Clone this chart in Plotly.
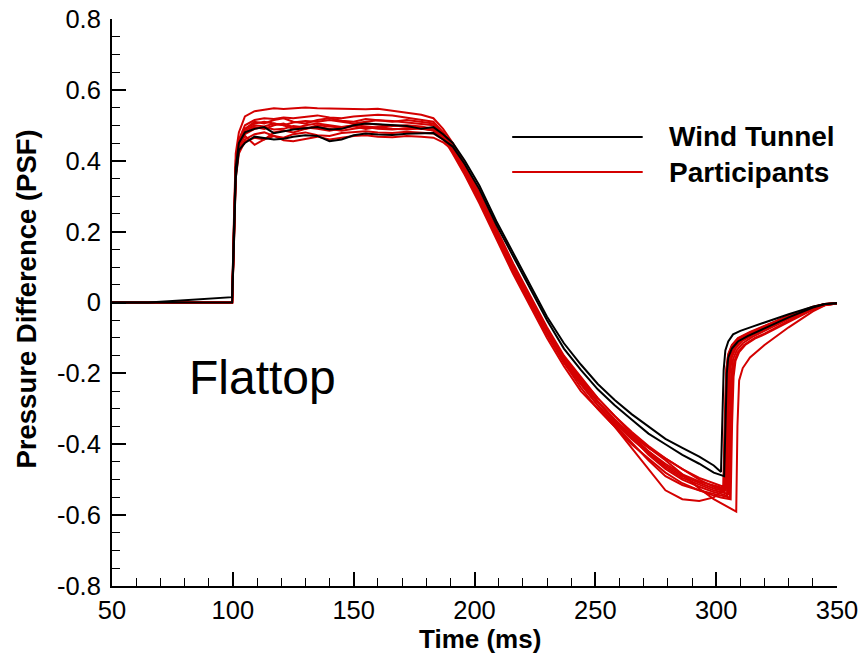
import plotly.graph_objects as go

# ---- shared time base (ms) for the run up to the suction peak ----
t_main = [50, 65, 80, 99.7, 100.4, 101.2,
          102.5, 105, 109, 113, 117, 121, 125, 130, 135, 140, 145, 150, 155, 160, 166, 172, 178, 183, 187,
          191, 196, 202, 209, 216, 223, 230, 237, 244, 251, 258, 265, 272, 279, 286, 293, 299]

# ---- wind tunnel records (PSF) ----
wt1_main = [0, 0.0, 0.006, 0.015, 0.20, 0.38,
            0.45, 0.48, 0.49, 0.495, 0.478, 0.483, 0.488, 0.492, 0.495, 0.488, 0.49, 0.50, 0.505, 0.503, 0.50, 0.498, 0.49, 0.495, 0.475,
            0.45, 0.40, 0.33, 0.23, 0.14, 0.05, -0.04, -0.115, -0.175, -0.23, -0.275, -0.315, -0.35, -0.385, -0.41, -0.435, -0.46]
wt1_t_tail = [302, 302.6, 303.1, 303.8, 305, 307, 310, 315, 320, 330, 340, 345, 350]
wt1_p_tail = [-0.478, -0.32, -0.19, -0.135, -0.11, -0.09, -0.08, -0.068, -0.056, -0.033, -0.012, -0.004, -0.002]

wt2_main = [0, 0, 0, 0, 0.15, 0.35,
            0.43, 0.45, 0.468, 0.465, 0.46, 0.462, 0.468, 0.472, 0.47, 0.455, 0.46, 0.472, 0.477, 0.474, 0.473, 0.476, 0.478, 0.478, 0.46,
            0.44, 0.39, 0.32, 0.22, 0.13, 0.04, -0.05, -0.13, -0.19, -0.245, -0.29, -0.33, -0.37, -0.40, -0.43, -0.455, -0.48]
wt2_t_tail = [303.3, 303.9, 304.4, 305, 306.5, 309, 313, 320, 330, 340, 345, 350]
wt2_p_tail = [-0.49, -0.32, -0.20, -0.155, -0.13, -0.11, -0.095, -0.073, -0.042, -0.014, -0.004, -0.002]

# ---- participant records (PSF) ----
p1_main = [0, 0, 0, 0, 0.22, 0.42,
           0.48, 0.525, 0.54, 0.545, 0.548, 0.546, 0.548, 0.55, 0.548, 0.547, 0.548, 0.546, 0.545, 0.547, 0.542, 0.536, 0.53, 0.52, 0.49,
           0.45, 0.39, 0.31, 0.21, 0.11, 0.02, -0.07, -0.15, -0.21, -0.27, -0.32, -0.37, -0.41, -0.44, -0.47, -0.50, -0.52]
p1_t_tail = [302, 304, 304.6, 305.2, 306, 307.5, 310, 315, 320, 330, 340, 345, 350]
p1_p_tail = [-0.525, -0.53, -0.33, -0.20, -0.15, -0.125, -0.105, -0.087, -0.07, -0.04, -0.014, -0.005, -0.002]

p2_main = [0, 0, 0, 0, 0.20, 0.40,
           0.46, 0.50, 0.515, 0.52, 0.518, 0.522, 0.52, 0.525, 0.528, 0.522, 0.52, 0.525, 0.527, 0.53, 0.528, 0.522, 0.515, 0.51, 0.48,
           0.44, 0.38, 0.30, 0.20, 0.10, 0.01, -0.08, -0.16, -0.22, -0.28, -0.33, -0.38, -0.42, -0.46, -0.49, -0.51, -0.525]
p2_t_tail = [302, 303.5, 304.1, 304.7, 305.5, 307, 310, 315, 320, 330, 340, 345, 350]
p2_p_tail = [-0.53, -0.535, -0.33, -0.19, -0.145, -0.12, -0.10, -0.083, -0.067, -0.038, -0.013, -0.004, -0.002]

p3_main = [0, 0, 0, 0, 0.18, 0.38,
           0.45, 0.49, 0.505, 0.51, 0.505, 0.50, 0.508, 0.512, 0.51, 0.515, 0.51, 0.505, 0.51, 0.514, 0.512, 0.508, 0.505, 0.50, 0.475,
           0.43, 0.37, 0.29, 0.19, 0.09, 0.00, -0.09, -0.17, -0.23, -0.29, -0.34, -0.385, -0.425, -0.465, -0.495, -0.515, -0.53]
p3_t_tail = [302, 305, 305.6, 306.2, 307, 308.5, 311, 315, 320, 330, 340, 345, 350]
p3_p_tail = [-0.535, -0.54, -0.34, -0.21, -0.16, -0.135, -0.115, -0.097, -0.08, -0.047, -0.017, -0.006, -0.003]

p4_main = [0, 0, 0, 0, 0.17, 0.37,
           0.44, 0.48, 0.495, 0.49, 0.50, 0.505, 0.495, 0.49, 0.50, 0.497, 0.493, 0.50, 0.505, 0.502, 0.498, 0.50, 0.497, 0.49, 0.47,
           0.43, 0.37, 0.29, 0.19, 0.10, 0.01, -0.08, -0.16, -0.22, -0.28, -0.33, -0.375, -0.41, -0.445, -0.485, -0.525, -0.555]
p4_t_tail = [304, 308.3, 308.8, 309.5, 311, 314, 320, 330, 340, 345, 350]
p4_p_tail = [-0.575, -0.59, -0.35, -0.22, -0.185, -0.155, -0.12, -0.07, -0.025, -0.008, -0.003]

p5_main = [0, 0, 0, 0, 0.16, 0.36,
           0.44, 0.47, 0.445, 0.46, 0.48, 0.485, 0.48, 0.49, 0.495, 0.49, 0.485, 0.49, 0.495, 0.49, 0.488, 0.492, 0.49, 0.485, 0.465,
           0.42, 0.36, 0.28, 0.18, 0.08, -0.01, -0.10, -0.18, -0.25, -0.30, -0.35, -0.41, -0.47, -0.53, -0.555, -0.56, -0.55]
p5_t_tail = [303, 304, 304.6, 305.2, 306, 307.5, 310, 315, 320, 330, 340, 345, 350]
p5_p_tail = [-0.53, -0.525, -0.32, -0.20, -0.155, -0.13, -0.11, -0.09, -0.073, -0.042, -0.015, -0.005, -0.002]

p6_main = [0, 0, 0, 0, 0.16, 0.36,
           0.43, 0.46, 0.475, 0.48, 0.47, 0.465, 0.475, 0.48, 0.472, 0.47, 0.478, 0.48, 0.483, 0.48, 0.478, 0.482, 0.48, 0.477, 0.46,
           0.43, 0.375, 0.30, 0.20, 0.10, 0.01, -0.08, -0.155, -0.215, -0.27, -0.32, -0.365, -0.405, -0.44, -0.47, -0.495, -0.51]
p6_t_tail = [301, 303, 303.6, 304.2, 305, 306.5, 309, 314, 320, 330, 340, 345, 350]
p6_p_tail = [-0.515, -0.52, -0.32, -0.19, -0.145, -0.12, -0.10, -0.083, -0.066, -0.037, -0.012, -0.004, -0.002]

p7_main = [0, 0, 0, 0, 0.15, 0.35,
           0.42, 0.455, 0.465, 0.46, 0.47, 0.458, 0.455, 0.462, 0.468, 0.46, 0.465, 0.47, 0.472, 0.468, 0.466, 0.47, 0.468, 0.465, 0.452,
           0.43, 0.37, 0.29, 0.19, 0.09, 0.0, -0.09, -0.17, -0.24, -0.30, -0.35, -0.40, -0.44, -0.48, -0.51, -0.53, -0.54]
p7_t_tail = [302, 305.5, 306.1, 306.7, 307.5, 309, 311.5, 316, 320, 330, 340, 345, 350]
p7_p_tail = [-0.545, -0.55, -0.34, -0.21, -0.165, -0.14, -0.12, -0.1, -0.088, -0.052, -0.019, -0.007, -0.003]

p8_main = [0, 0, 0, 0, 0.19, 0.39,
           0.45, 0.49, 0.51, 0.505, 0.515, 0.52, 0.51, 0.505, 0.515, 0.52, 0.513, 0.51, 0.518, 0.515, 0.51, 0.515, 0.51, 0.505, 0.48,
           0.44, 0.38, 0.30, 0.20, 0.10, 0.01, -0.075, -0.155, -0.22, -0.28, -0.335, -0.38, -0.43, -0.47, -0.50, -0.52, -0.535]
p8_t_tail = [302, 304.5, 305.1, 305.7, 306.5, 308, 310.5, 315, 320, 330, 340, 345, 350]
p8_p_tail = [-0.54, -0.545, -0.33, -0.20, -0.155, -0.13, -0.11, -0.092, -0.077, -0.045, -0.016, -0.005, -0.002]

p9_main = [0, 0, 0, 0, 0.17, 0.37,
           0.44, 0.475, 0.49, 0.495, 0.488, 0.49, 0.498, 0.495, 0.49, 0.485, 0.492, 0.497, 0.49, 0.495, 0.49, 0.488, 0.492, 0.485, 0.465,
           0.43, 0.37, 0.29, 0.19, 0.09, 0.0, -0.085, -0.165, -0.23, -0.29, -0.345, -0.395, -0.445, -0.49, -0.515, -0.53, -0.545]
p9_t_tail = [302, 306, 306.6, 307.2, 308, 309.5, 312, 316, 320, 330, 340, 345, 350]
p9_p_tail = [-0.55, -0.555, -0.34, -0.21, -0.165, -0.14, -0.12, -0.102, -0.09, -0.055, -0.02, -0.007, -0.003]

p10_main = [0, 0, 0, 0, 0.18, 0.38,
            0.45, 0.485, 0.50, 0.497, 0.505, 0.50, 0.49, 0.50, 0.505, 0.50, 0.495, 0.50, 0.498, 0.494, 0.50, 0.496, 0.49, 0.488, 0.468,
            0.44, 0.38, 0.30, 0.20, 0.10, 0.01, -0.08, -0.16, -0.225, -0.28, -0.33, -0.375, -0.42, -0.455, -0.485, -0.505, -0.515]
p10_t_tail = [301, 303, 303.6, 304.2, 305, 306.5, 309, 314, 320, 330, 340, 345, 350]
p10_p_tail = [-0.52, -0.525, -0.32, -0.19, -0.148, -0.122, -0.102, -0.085, -0.068, -0.038, -0.013, -0.004, -0.002]

wind_tunnel = [(wt1_main, wt1_t_tail, wt1_p_tail), (wt2_main, wt2_t_tail, wt2_p_tail)]
participants = [(p1_main, p1_t_tail, p1_p_tail), (p2_main, p2_t_tail, p2_p_tail),
                (p3_main, p3_t_tail, p3_p_tail), (p4_main, p4_t_tail, p4_p_tail),
                (p5_main, p5_t_tail, p5_p_tail), (p6_main, p6_t_tail, p6_p_tail),
                (p7_main, p7_t_tail, p7_p_tail), (p8_main, p8_t_tail, p8_p_tail),
                (p9_main, p9_t_tail, p9_p_tail), (p10_main, p10_t_tail, p10_p_tail)]

x_ticks = [50, 100, 150, 200, 250, 300, 350]
y_ticks = [-0.8, -0.6, -0.4, -0.2, 0, 0.2, 0.4, 0.6, 0.8]
y_tick_labels = ["-0.8", "-0.6", "-0.4", "-0.2", "0", "0.2", "0.4", "0.6", "0.8"]

RED = "#d40000"
BLACK = "#000000"
FONT = "Liberation Sans, Arial, Helvetica, sans-serif"

fig = go.Figure()


def add_record(main, t_tail, p_tail, color):
    fig.add_trace(go.Scatter(
        x=t_main + t_tail, y=main + p_tail, mode="lines",
        line=dict(color=color, width=2), showlegend=False, hoverinfo="skip"))


for rec in participants:
    add_record(*rec, RED)
for rec in wind_tunnel:
    add_record(*rec, BLACK)

axis_common = dict(
    showline=True, linecolor="black", linewidth=2, mirror=False,
    showgrid=False, zeroline=False, automargin=False,
    ticks="inside", ticklen=14, tickwidth=2, tickcolor="black",
    tickfont=dict(family=FONT, size=25.5, color="black"),
)

fig.update_xaxes(range=[50, 350], tickvals=x_ticks,
                 minor=dict(ticks="inside", ticklen=8, tickwidth=1, tickcolor="black",
                            tick0=50, dtick=10),
                 **axis_common)
fig.update_yaxes(range=[-0.8, 0.8], tickvals=y_ticks, ticktext=y_tick_labels,
                 minor=dict(ticks="inside", ticklen=8, tickwidth=1, tickcolor="black",
                            tick0=-0.8, dtick=0.05),
                 ticklabelstandoff=4,
                 **axis_common)

# legend drawn as line samples with labels
legend_items = [("Wind Tunnel", BLACK, 0.792), ("Participants", RED, 0.730)]
for label, color, yy in legend_items:
    fig.add_shape(type="line", xref="paper", yref="paper",
                  x0=0.552, x1=0.732, y0=yy, y1=yy,
                  line=dict(color=color, width=2))
    fig.add_annotation(text="<b>" + label + "</b>", xref="paper", yref="paper", x=0.765, y=yy,
                       xanchor="left", yanchor="middle", showarrow=False,
                       font=dict(family=FONT, size=28, color="black"))

fig.add_annotation(text="Flattop", xref="paper", yref="paper", x=0.207, y=0.367,
                   xanchor="center", yanchor="middle", showarrow=False,
                   font=dict(family=FONT, size=48, color="black"))

fig.add_annotation(text="<b>Pressure Difference (PSF)</b>", xref="paper", yref="paper",
                   x=-0.118, y=0.506, textangle=-90, xanchor="center", yanchor="middle",
                   showarrow=False, font=dict(family=FONT, size=27.5, color="black"))
fig.add_annotation(text="<b>Time (ms)</b>", xref="paper", yref="paper",
                   x=0.508, y=-0.094, xanchor="center", yanchor="middle",
                   showarrow=False, font=dict(family=FONT, size=26, color="black"))

fig.update_layout(
    width=865, height=654,
    margin=dict(l=112, r=28, t=19, b=68),
    paper_bgcolor="white", plot_bgcolor="white",
    showlegend=False,
)

fig.write_html("out.html")
